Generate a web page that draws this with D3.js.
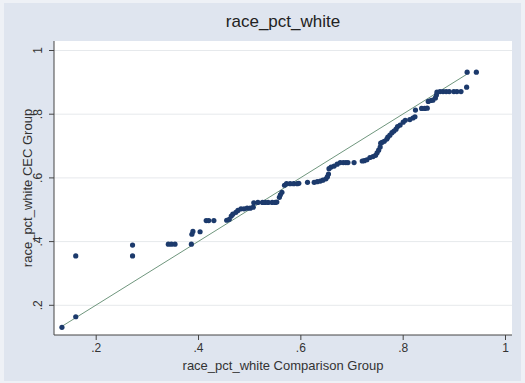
<!DOCTYPE html>
<html>
<head>
<meta charset="utf-8">
<script src="https://cdn.jsdelivr.net/npm/d3@7"></script>
<style>
  body { margin: 0; background: #eef1f6; }
  svg { display: block; font-family: "Liberation Sans", Arial, sans-serif; }
</style>
</head>
<body>
<svg id="chart" width="525" height="383"></svg>
<script>
// quantiles of the comparison group (x) and CEC group (y)
const comparisonQ = [
  0.134, 0.161, 0.161, 0.272, 0.272, 0.342, 0.348, 0.355, 0.387, 0.388,
  0.390, 0.404, 0.416, 0.421, 0.431, 0.456, 0.461, 0.465, 0.468, 0.474,
  0.478, 0.484, 0.490, 0.496, 0.502, 0.508, 0.509, 0.517, 0.526, 0.531,
  0.537, 0.545, 0.551, 0.554, 0.559, 0.561, 0.564, 0.569, 0.573, 0.580,
  0.587, 0.594, 0.597, 0.614, 0.627, 0.633, 0.639, 0.644, 0.650, 0.653,
  0.655, 0.656, 0.660, 0.666, 0.672, 0.678, 0.684, 0.689, 0.693, 0.705,
  0.721, 0.725, 0.730, 0.736, 0.742, 0.747, 0.750, 0.753, 0.756, 0.757,
  0.760, 0.764, 0.769, 0.771, 0.775, 0.779, 0.783, 0.787, 0.790, 0.795,
  0.801, 0.805, 0.814, 0.820, 0.824, 0.825, 0.837, 0.843, 0.848, 0.850,
  0.855, 0.859, 0.864, 0.866, 0.867, 0.873, 0.879, 0.885, 0.891, 0.900,
  0.906, 0.914, 0.925, 0.926, 0.944
];
const cecQ = [
  0.131, 0.164, 0.355, 0.355, 0.389, 0.392, 0.392, 0.392, 0.392, 0.423,
  0.432, 0.431, 0.466, 0.466, 0.466, 0.467, 0.470, 0.480, 0.486, 0.492,
  0.498, 0.503, 0.503, 0.505, 0.505, 0.508, 0.522, 0.523, 0.523, 0.523,
  0.523, 0.523, 0.523, 0.524, 0.539, 0.547, 0.555, 0.577, 0.582, 0.582,
  0.582, 0.582, 0.583, 0.586, 0.586, 0.588, 0.590, 0.593, 0.597, 0.604,
  0.612, 0.629, 0.634, 0.637, 0.643, 0.648, 0.648, 0.648, 0.648, 0.648,
  0.653, 0.654, 0.657, 0.664, 0.667, 0.671, 0.679, 0.687, 0.697, 0.709,
  0.712, 0.715, 0.722, 0.728, 0.734, 0.742, 0.747, 0.753, 0.761, 0.766,
  0.775, 0.781, 0.783, 0.788, 0.792, 0.813, 0.818, 0.818, 0.819, 0.840,
  0.843, 0.844, 0.851, 0.860, 0.869, 0.871, 0.871, 0.871, 0.871, 0.871,
  0.871, 0.871, 0.885, 0.932, 0.932
];
const xTicks = [0.2, 0.4, 0.6, 0.8, 1];
const yTicks = [0.2, 0.4, 0.6, 0.8, 1];
const refLine = [0.132, 0.93];

const data = comparisonQ.map((v, i) => ({ x: v, y: cecQ[i] }));

const svg = d3.select("#chart");
const plot = { left: 54, right: 512, top: 41, bottom: 335 };

const x = d3.scaleLinear().domain([0.2, 1]).range([95.7, 505]);
const y = d3.scaleLinear().domain([0.2, 1]).range([305.3, 50.5]);
const fmt = d => d === 1 ? "1" : String(d).replace(/^0/, "");

// graph region
svg.append("rect")
  .attr("x", 4).attr("y", 3).attr("width", 517).attr("height", 378)
  .attr("fill", "#dfe5ef");

// plot region
svg.append("rect")
  .attr("x", plot.left).attr("y", plot.top)
  .attr("width", plot.right - plot.left).attr("height", plot.bottom - plot.top)
  .attr("fill", "#ffffff");

// gridlines
svg.append("g")
  .selectAll("line")
  .data(yTicks)
  .enter().append("line")
  .attr("x1", plot.left).attr("x2", plot.right)
  .attr("y1", d => y(d)).attr("y2", d => y(d))
  .attr("stroke", "#e6e9ec").attr("stroke-width", 1);

// reference line y = x
svg.append("line")
  .attr("x1", x(refLine[0])).attr("y1", y(refLine[0]))
  .attr("x2", x(refLine[1])).attr("y2", y(refLine[1]))
  .attr("stroke", "#5f8a6e").attr("stroke-width", 0.9);

// points
svg.append("g")
  .selectAll("circle")
  .data(data)
  .enter().append("circle")
  .attr("cx", d => x(d.x))
  .attr("cy", d => y(d.y))
  .attr("r", 2.6)
  .attr("fill", "#1c3a6c");

// axes
const xAxis = svg.append("g")
  .attr("transform", `translate(0,${plot.bottom})`)
  .call(d3.axisBottom(x).tickValues(xTicks).tickFormat(fmt).tickSize(5).tickPadding(3));
xAxis.select(".domain").remove();

const yAxis = svg.append("g")
  .attr("transform", `translate(${plot.left},0)`)
  .call(d3.axisLeft(y).tickValues(yTicks).tickFormat(fmt).tickSize(5).tickPadding(3));
yAxis.select(".domain").remove();
yAxis.selectAll("text")
  .attr("transform", d => `translate(-12,${y(d)}) rotate(-90)`)
  .attr("x", 0).attr("y", 0).attr("dy", 0)
  .style("text-anchor", "middle");
yAxis.selectAll(".tick").attr("transform", null);
yAxis.selectAll(".tick line").attr("y1", d => y(d)).attr("y2", d => y(d));

svg.selectAll(".tick line").attr("stroke", "#444");
svg.selectAll(".tick text").attr("fill", "#333").style("font-size", "12px");

svg.append("line")
  .attr("x1", plot.left).attr("x2", plot.right)
  .attr("y1", plot.bottom).attr("y2", plot.bottom)
  .attr("stroke", "#444");
svg.append("line")
  .attr("x1", plot.left).attr("x2", plot.left)
  .attr("y1", plot.top).attr("y2", plot.bottom)
  .attr("stroke", "#444");

// titles
svg.append("text")
  .attr("x", 283).attr("y", 27)
  .style("text-anchor", "middle")
  .style("font-size", "17px").attr("fill", "#222")
  .text("race_pct_white");

svg.append("text")
  .attr("x", 283).attr("y", 370)
  .style("text-anchor", "middle")
  .style("font-size", "13px").attr("fill", "#333")
  .text("race_pct_white Comparison Group");

svg.append("text")
  .attr("transform", `translate(32,${(plot.top + plot.bottom) / 2}) rotate(-90)`)
  .style("text-anchor", "middle")
  .style("font-size", "13px").attr("fill", "#333")
  .text("race_pct_white CEC Group");
</script>
</body>
</html>
